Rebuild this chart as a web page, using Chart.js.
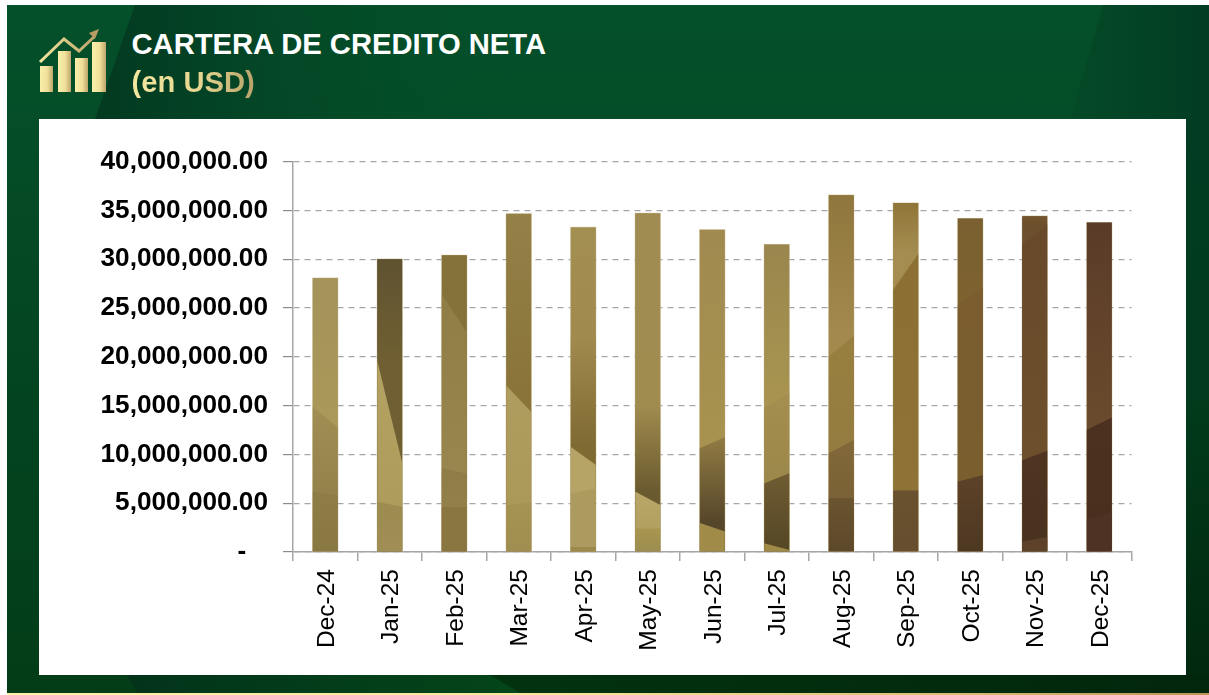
<!DOCTYPE html>
<html>
<head>
<meta charset="utf-8">
<script src="https://cdn.jsdelivr.net/npm/chart.js@4"></script>
<style>
html,body{margin:0;padding:0;background:#fff;width:1209px;height:695px;overflow:hidden}
#bg,#cv{position:absolute;left:0;top:0}
#panel{position:absolute;left:39px;top:119px;width:1147px;height:556px;background:#fff}
.t{position:absolute;left:131.5px;font:bold 29.2px "Liberation Sans",Arial,sans-serif;white-space:nowrap;line-height:34px}
#t1{top:27px;color:#fff}
#t2{top:65px;background:linear-gradient(90deg,#f3e7a0 0%,#e6d690 55%,#b9a26a 100%);-webkit-background-clip:text;background-clip:text;color:transparent}
</style>
</head>
<body>
<svg id="bg" width="1209" height="695" xmlns="http://www.w3.org/2000/svg">
<defs>
<linearGradient id="base" gradientUnits="userSpaceOnUse" x1="0" y1="5" x2="0" y2="693"><stop offset="0" stop-color="#04502a"/><stop offset="0.17" stop-color="#044d28"/><stop offset="0.6" stop-color="#03431f"/><stop offset="1" stop-color="#033d18"/></linearGradient>
<linearGradient id="w1" x1="0" y1="0" x2="1" y2="0"><stop offset="0" stop-color="#033a20"/><stop offset="0.2" stop-color="#034024"/><stop offset="1" stop-color="#04502a" stop-opacity="0"/></linearGradient>
<linearGradient id="w2" x1="0" y1="0" x2="1" y2="0"><stop offset="0" stop-color="#044a28"/><stop offset="1" stop-color="#023c22"/></linearGradient>
<linearGradient id="rs" x1="0" y1="0" x2="0" y2="1"><stop offset="0" stop-color="#023c22"/><stop offset="0.5" stop-color="#013a1c"/><stop offset="1" stop-color="#01280f"/></linearGradient>
<linearGradient id="b1" x1="0" y1="0" x2="1" y2="0"><stop offset="0" stop-color="#02331a"/><stop offset="0.45" stop-color="#033c1a"/><stop offset="1" stop-color="#044519"/></linearGradient>
<linearGradient id="b2" x1="0" y1="0" x2="1" y2="0"><stop offset="0" stop-color="#02330f"/><stop offset="1" stop-color="#02260c"/></linearGradient>
<linearGradient id="gold" x1="0" y1="0" x2="1" y2="0"><stop offset="0" stop-color="#fbf3ae"/><stop offset="0.45" stop-color="#f3e7a0"/><stop offset="0.75" stop-color="#d9c47c"/><stop offset="1" stop-color="#b8955a"/></linearGradient>
<linearGradient id="ib" x1="0" y1="0" x2="1" y2="0"><stop offset="0" stop-color="#f9efaa"/><stop offset="0.55" stop-color="#f0e09a"/><stop offset="1" stop-color="#bfa56c"/></linearGradient>
<linearGradient id="il" gradientUnits="userSpaceOnUse" x1="40" y1="0" x2="100" y2="0"><stop offset="0" stop-color="#f3e7a0"/><stop offset="1" stop-color="#b79c63"/></linearGradient>
</defs>
<rect x="7" y="5" width="1202" height="688" fill="url(#base)"/>
<polygon points="135,5 95,119 520,119 520,5" fill="url(#w1)"/>
<polygon points="1103,5 1070,119 1209,119 1209,5" fill="url(#w2)"/>
<rect x="1186" y="119" width="23" height="556" fill="url(#rs)"/>
<polygon points="127,675 137,693 520,693 490,675" fill="url(#b1)"/>
<polygon points="490,675 520,693 1209,693 1209,675" fill="url(#b2)"/>
<rect x="7" y="693" width="1202" height="2" fill="url(#gold)"/>
<rect x="40" y="66" width="13" height="26" fill="url(#ib)"/>
<rect x="58" y="51" width="13" height="41" fill="url(#ib)"/>
<rect x="75" y="58" width="13" height="34" fill="url(#ib)"/>
<rect x="92" y="42" width="14" height="50" fill="url(#ib)"/>
<polyline points="40,62 64,39 79,51 94,37" fill="none" stroke="url(#il)" stroke-width="3"/>
<polygon points="99,29 89,33 95,39" fill="#b79c63"/>
</svg>
<div id="panel"></div>
<div class="t" id="t1">CARTERA DE CREDITO NETA</div>
<div class="t" id="t2">(en USD)</div>
<canvas id="cv" width="1209" height="695"></canvas>
<script>
const categories = ["Dec-24","Jan-25","Feb-25","Mar-25","Apr-25","May-25","Jun-25","Jul-25","Aug-25","Sep-25","Oct-25","Nov-25","Dec-25"];
const carteraNeta = [28100000,30050000,30450000,34700000,33300000,34750000,33050000,31550000,36600000,35800000,34200000,34450000,33800000];
const yTicks = [0,5000000,10000000,15000000,20000000,25000000,30000000,35000000,40000000];
const barTopColors = ["#a8975c","#5f5230","#857238","#948148","#a48f52","#a08c52","#a08a50","#9a864d","#8f763c","#8f7538","#7a5f30","#73552f","#5a3b28"];
// Shading inside each bar, top band first: [edge at bar's left (millions), edge at bar's right (millions), colour at edge, colour at next edge]
const barShades = [
 [[28.1,28.1,"#a4935a","#a99859"],[14.9,12.7,"#a08e54","#94824b"],[6.2,5.8,"#8f7d48","#8a7842"]],
 [[30.05,30.05,"#5f5230","#6f5f32"],[19.8,8.9,"#b3a262","#ad9c5c"],[5.15,4.6,"#9c8c50","#a08e54"]],
 [[30.45,30.45,"#857238","#85723a"],[26.5,22.4,"#8f7d45","#98864e"],[8.6,8.0,"#8f7c46","#938049"],[4.6,4.6,"#8a7640","#8a7640"]],
 [[34.7,34.7,"#948148","#8a7439"],[17.1,14.3,"#ae9d5e","#aa9959"],[4.8,5.1,"#a59353","#a08e50"]],
 [[33.3,33.3,"#a48f52","#a08a4e"],[22,22,"#a08a4e","#7f6a32"],[10.8,8.9,"#b5a465","#b5a465"],[6.0,6.5,"#ac9b5e","#ac9b5e"],[0.5,0.5,"#9c8a4c","#9c8a4c"]],
 [[34.75,34.75,"#a08c52","#a08c4f"],[15,15,"#a08c4f","#6a5a2f"],[6.2,4.8,"#b8a768","#b2a060"],[2.4,2.4,"#a8964f","#9c8c50"]],
 [[33.05,33.05,"#a08a50","#a8924f"],[10.6,11.8,"#917c44","#56462a"],[3.0,2.1,"#a08c48","#a08c48"]],
 [[31.55,31.55,"#9a864d","#a89450"],[14.7,16.3,"#a48e50","#9c884a"],[7.0,8.1,"#6f5c33","#574826"],[0.9,0.2,"#a08a48","#a08a48"]],
 [[36.6,36.6,"#8f763c","#a3894e"],[20,22.2,"#97803f","#947c40"],[10.1,11.5,"#82683a","#7a6236"],[5.5,5.5,"#6a5430","#5c482a"]],
 [[35.8,35.8,"#8f7538","#a58c50"],[26.8,30.6,"#8c7033","#8e7236"],[6.3,6.3,"#6a5230","#664e2e"]],
 [[34.2,34.2,"#7a5f30","#7d6230"],[25.3,27.1,"#7a5c2f","#7a5e2e"],[7.2,7.9,"#5c4228","#4e3822"]],
 [[34.45,34.45,"#73552f","#6c4f2c"],[31.4,33.6,"#684a2b","#6d4f2c"],[9.4,10.4,"#4f3522","#4a3220"],[1.05,1.55,"#5d4229","#5d4229"]],
 [[33.8,33.8,"#5a3b28","#6a4a2c"],[12.5,13.8,"#4c3020","#4a2e1e"],[3.3,4.1,"#4e3224","#4e3224"]]
];
const barShadePlugin = {
  id: "barShade",
  afterDatasetDraw(chart) {
    const ctx = chart.ctx, y = chart.scales.y, meta = chart.getDatasetMeta(0);
    meta.data.forEach((bar, i) => {
      const l = bar.x - bar.width / 2, r = bar.x + bar.width / 2, bands = barShades[i];
      ctx.save();
      ctx.beginPath();
      ctx.rect(l + 0.5, bar.y + 0.5, bar.width - 1, bar.base - bar.y - 0.5);
      ctx.clip();
      bands.forEach((b, k) => {
        const yl = y.getPixelForValue(b[0] * 1e6), yr = y.getPixelForValue(b[1] * 1e6);
        const next = bands[k + 1];
        const y0 = Math.min(yl, yr);
        const y1 = next ? y.getPixelForValue(Math.max(next[0], next[1]) * 1e6) : bar.base;
        const g = ctx.createLinearGradient(0, y0, 0, Math.max(y1, y0 + 1));
        g.addColorStop(0, b[2]); g.addColorStop(1, b[3]);
        ctx.fillStyle = g;
        ctx.beginPath();
        ctx.moveTo(l, yl); ctx.lineTo(r, yr); ctx.lineTo(r, bar.base); ctx.lineTo(l, bar.base);
        ctx.closePath();
        ctx.fill();
      });
      ctx.restore();
    });
  }
};
new Chart(document.getElementById("cv"), {
  type: "bar",
  data: { labels: categories, datasets: [{ data: carteraNeta, backgroundColor: barTopColors, borderColor: "rgba(205,195,160,0.7)", borderWidth: 1, barThickness: 26 }] },
  plugins: [barShadePlugin],
  options: {
    responsive: false, animation: false,
    layout: { padding: { left: 0, top: 161.5, right: 77.5, bottom: 0 } },
    plugins: { legend: { display: false }, title: { display: false }, tooltip: { enabled: false } },
    scales: {
      x: {
        afterFit(s) { s.height = 143; },
        grid: { offset: true, drawOnChartArea: false, drawTicks: true, tickLength: 9, color: "#a6a6a6", lineWidth: 1.5 },
        border: { color: "#a6a6a6", width: 1.5 },
        ticks: { minRotation: 90, maxRotation: 90, autoSkip: false, padding: 8, labelOffset: 1.5, color: "#000", font: { family: "Liberation Sans", size: 24.5 } }
      },
      y: {
        min: 0, max: 40000000,
        afterFit(s) { s.width = 293; },
        afterBuildTicks(s) { s.ticks = yTicks.map(v => ({ value: v })); },
        grid: { color: "#a6a6a6", lineWidth: 1.2, tickLength: 10, tickColor: "#8c8c8c", tickBorderDash: [] },
        border: { color: "#a6a6a6", width: 1.5, dash: [6, 5] },
        ticks: { padding: 15, color: "#000", font: { family: "Liberation Sans", size: 26.2, weight: "bold" },
          callback: v => v === 0 ? "-\u00a0\u00a0\u00a0" : v.toLocaleString("en-US", { minimumFractionDigits: 2, maximumFractionDigits: 2 }) }
      }
    }
  }
});
</script>
</body>
</html>
